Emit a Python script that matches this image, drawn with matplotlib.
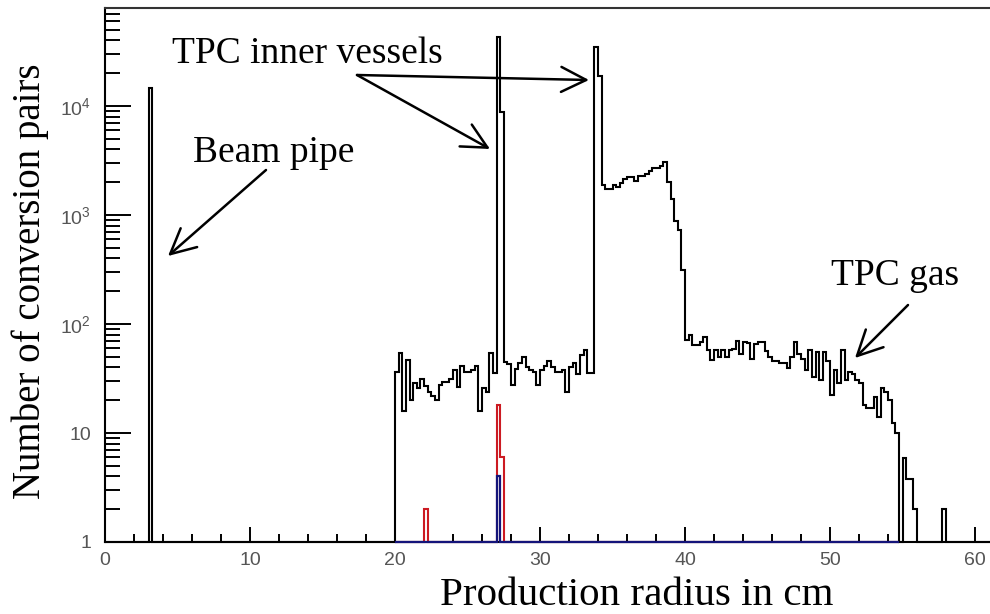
import numpy as np
import matplotlib
matplotlib.use("Agg")
import matplotlib.pyplot as plt
from matplotlib.ticker import FixedLocator, MultipleLocator, LogLocator, NullFormatter, FixedFormatter

# ---------------------------------------------------------------- data
BIN_WIDTH = 0.25          # cm per bin
R_MAX = 62.0              # histogram upper edge (cm)

# black histogram: all conversion pairs, contiguous band starting at 20 cm
main_start = 20.0
main_counts = [
    # 20.00 - 26.75
    36, 54, 16, 47, 20, 28.6, 25.7, 31, 27, 23.9, 21.8, 20, 27.5, 29.5,
    29.5, 31, 37.8, 26.2, 41, 36.5, 36.5, 37.8, 41, 16, 26, 24, 54.6, 35.7,
    # 27.00 - 27.25 (inner vessel wall)
    43000, 8900,
    # 27.50 - 33.50
    45, 43, 27.5, 38.5, 43.5, 49.5, 40, 37.8, 36, 27.5, 37.8, 41, 46, 40,
    36.5, 36.5, 37.8, 24, 40, 43.5, 34.7, 52, 57.6, 35.3, 35.3,
    # 33.75 - 34.00 (outer vessel wall)
    35000, 18800,
    # 34.25 - 39.75
    1885, 1715, 1715, 1885, 1790, 1980, 2140, 2230, 2230, 2040, 2300, 2300,
    2390, 2560, 2700, 2700, 2830, 3090, 1990, 1390, 890, 730, 310,
    # 40.00 - 54.50 (TPC gas)
    71, 80, 64, 64, 68, 76, 57.6, 46.8, 58, 50, 58, 50, 57.6, 59, 70, 53,
    68, 67, 48, 66, 68, 68, 57, 50, 45.6, 46, 44, 43.6, 39.3, 50, 68, 53,
    48, 37.8, 57.6, 32.8, 55, 30.6, 55, 45.6, 22.3, 37.8, 28.6, 58, 30.6,
    36.6, 35, 30.6, 28.6, 18, 17, 16.8, 21.6, 14, 25.7, 24, 20, 12.3, 9.9,
    # 54.75 - 55.75
    0, 5.9, 3.8, 3.8, 2,
]
beam_pipe_r = 3.0
beam_pipe_count = 14500
outer_r = 57.75
outer_count = 2

# red and blue sub-samples, defined over 20 - 54.75 cm
sub_range = (20.0, 54.75)
red_r = [22.0, 27.0, 27.25]
red_counts = [2, 18, 6]
blue_r = [27.0]
blue_counts = [4]

x_major = [0, 10, 20, 30, 40, 50, 60]
y_major = [1, 10, 100, 1000, 10000]
y_labels = ["1", "10", r"$\mathrm{10^{2}}$", r"$\mathrm{10^{3}}$", r"$\mathrm{10^{4}}$"]

# ---------------------------------------------------------------- histograms
def idx(r, start=0.0):
    return int(round((r - start) / BIN_WIDTH))

edges = np.arange(0.0, R_MAX + BIN_WIDTH / 2, BIN_WIDTH)
black = np.zeros(len(edges) - 1)
i0 = idx(main_start)
black[i0:i0 + len(main_counts)] = main_counts
black[idx(beam_pipe_r)] = beam_pipe_count
black[idx(outer_r)] = outer_count

sub_edges = np.arange(sub_range[0], sub_range[1] + BIN_WIDTH / 2, BIN_WIDTH)
red = np.zeros(len(sub_edges) - 1)
for r, c in zip(red_r, red_counts):
    red[idx(r, sub_range[0])] = c
blue = np.zeros(len(sub_edges) - 1)
for r, c in zip(blue_r, blue_counts):
    blue[idx(r, sub_range[0])] = c

# ---------------------------------------------------------------- figure
W, H = 990, 614
plt.rcParams["mathtext.fontset"] = "custom"
plt.rcParams["mathtext.rm"] = "Liberation Sans"
fig = plt.figure(figsize=(W / 100, H / 100), dpi=100)
ax = fig.add_axes([105 / W, 72 / H, 885 / W, 534 / H])
ax.set_yscale("log")
ax.set_xlim(0, 885 / 14.5)
ax.set_ylim(1, 10 ** (534 / 109))

ymin = 1.0
ax.stairs(np.clip(black, ymin, None), edges, baseline=ymin, color="black",
          lw=1.5, zorder=3, clip_on=False)
ax.stairs(np.clip(red, ymin, None), sub_edges, baseline=ymin, color="#cc1a22",
          lw=1.5, zorder=4, clip_on=False)
ax.stairs(np.clip(blue, ymin, None), sub_edges, baseline=ymin, color="#14147a",
          lw=1.6, zorder=5, clip_on=False)

# axes frame
ax.spines["right"].set_visible(False)
for s in ("left", "bottom", "top"):
    ax.spines[s].set_linewidth(1.5)
ax.spines["top"].set_color("#333333")

ax.xaxis.set_major_locator(FixedLocator(x_major))
ax.xaxis.set_minor_locator(MultipleLocator(2))
ax.yaxis.set_major_locator(FixedLocator(y_major))
ax.yaxis.set_major_formatter(FixedFormatter(y_labels))
ax.yaxis.set_minor_locator(LogLocator(base=10, subs=np.arange(2, 10)))
ax.yaxis.set_minor_formatter(NullFormatter())

ax.tick_params(axis="y", which="major", direction="in", length=19, width=1.4,
               pad=10, labelsize=14, labelcolor="#555555")
ax.tick_params(axis="y", which="minor", direction="in", length=11, width=1.4)
ax.tick_params(axis="x", which="major", direction="in", length=11, width=1.4,
               pad=7, labelsize=14, labelcolor="#555555")
ax.tick_params(axis="x", which="minor", direction="in", length=6, width=1.4)
for lab in ax.get_xticklabels() + ax.get_yticklabels():
    lab.set_fontfamily("Liberation Sans")

# ---------------------------------------------------------------- labels
def fp(x, y):
    return (x / W, 1 - y / H)

serif = "Liberation Serif"
fig.text(*fp(440, 605), "Production radius in cm", fontsize=29.5,
         family=serif, ha="left", va="baseline")
fig.text(*fp(11, 281), "Number of conversion pairs", fontsize=28,
         family=serif, rotation=90, ha="left", va="center")

fig.text(*fp(172, 63), "TPC inner vessels", fontsize=27, family=serif,
         ha="left", va="baseline")
fig.text(*fp(193, 162), "Beam pipe", fontsize=27, family=serif,
         ha="left", va="baseline")
fig.text(*fp(831, 285), "TPC gas", fontsize=27, family=serif,
         ha="left", va="baseline")

arrow = dict(arrowstyle="->,head_length=0.9,head_width=0.45", lw=1.8,
             color="black", shrinkA=0, shrinkB=0, mutation_scale=20)
for tail, head in [((266, 170), (168, 256)),
                   ((357, 75), (490, 149)),
                   ((357, 75), (589, 80)),
                   ((908, 305), (855, 358))]:
    ax.annotate("", xy=fp(*head), xytext=fp(*tail), xycoords="figure fraction",
                textcoords="figure fraction", arrowprops=arrow)

fig.savefig("out.png", dpi=100)
